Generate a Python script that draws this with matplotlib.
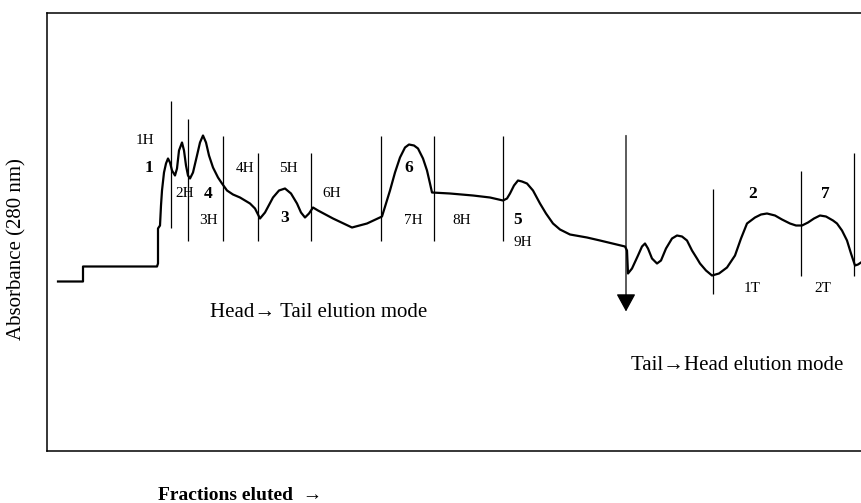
import matplotlib
matplotlib.use('Agg')
import matplotlib.pyplot as plt
import numpy as np

plt.rcParams['font.family'] = ['Liberation Serif', 'DejaVu Serif']

# chromatogram trace (fraction position, absorbance in arbitrary units)
frac = [58, 83, 83, 157, 158, 158, 160, 161, 162, 164, 166, 168, 170, 172, 175, 177, 179, 182,
        184, 186, 188, 190, 193, 197, 200, 203, 206, 209, 213, 218, 222, 227, 233, 240, 250,
        255, 260, 265, 273, 279, 285, 291, 297, 301, 305, 309, 313, 318, 333, 352, 367, 382,
        390, 395, 400, 405, 409, 414, 418, 423, 427, 430, 432, 450, 473, 490, 503, 507, 510,
        514, 518, 522, 527, 533, 540, 546, 553, 560, 570, 587, 600, 625, 627, 628, 632, 638,
        642, 645, 648, 652, 657, 661, 666, 672, 677, 682, 687, 692, 697, 700, 706, 712, 719,
        727, 735, 741, 747, 755, 761, 767, 775, 782, 790, 796, 802, 808, 814, 820, 826, 833,
        837, 842, 847, 851, 855, 858, 861]
ypix = [281, 281, 266, 266, 263, 228, 225, 205, 190, 172, 163, 158, 162, 170, 175, 168, 150, 142,
        150, 165, 175, 178, 172, 155, 142, 135, 142, 155, 167, 177, 183, 190, 194, 197, 203,
        208, 218, 212, 197, 190, 188, 193, 203, 212, 217, 213, 207, 210, 218, 227, 223, 216,
        190, 172, 157, 147, 144, 145, 148, 158, 170, 183, 192, 193, 195, 197, 200, 198, 193,
        185, 180, 181, 183, 190, 203, 213, 223, 229, 234, 237, 240, 246, 250, 273, 268, 255,
        246, 243, 248, 258, 263, 260, 248, 238, 235, 236, 240, 250, 258, 263, 270, 275, 273,
        267, 255, 238, 223, 217, 214, 213, 215, 219, 223, 225, 225, 222, 218, 215, 216, 220,
        223, 230, 240, 253, 265, 264, 262]
absorb = [450 - v for v in ypix]

# fraction cut lines: x, top, bottom
cut_x = [171, 188, 223, 258, 311, 381, 434, 503, 713, 801, 854]
cut_top = [100, 118, 135, 152, 152, 135, 135, 135, 188, 170, 152]
cut_bot = [227, 240, 240, 240, 240, 240, 240, 240, 293, 275, 275]

frac_labels = ['1H', '2H', '3H', '4H', '5H', '6H', '7H', '8H', '9H', '1T', '2T']
frac_lx = [145, 185, 208, 245, 288, 332, 413, 462, 523, 752, 823]
frac_ly = [140, 193, 220, 168, 168, 193, 220, 220, 242, 288, 288]

peak_labels = ['1', '4', '3', '6', '5', '2', '7']
peak_lx = [149, 208, 285, 409, 518, 753, 825]
peak_ly = [167, 193, 218, 167, 220, 193, 193]

fig = plt.figure(figsize=(8.61, 5.03), dpi=100)
ax = fig.add_axes([47 / 861, 52.5 / 503, 814 / 861, 438 / 503])
ax.set_xlim(47, 861)
ax.set_ylim(0, 438)
ax.set_xticks([])
ax.set_yticks([])
ax.spines['right'].set_visible(False)
for s in ['left', 'top', 'bottom']:
    ax.spines[s].set_linewidth(1.1)

ax.plot(frac, absorb, color='black', lw=1.6, solid_joinstyle='round')

ax.vlines(cut_x, [450 - b for b in cut_bot], [450 - t for t in cut_top], color='black', lw=0.9)

# switch of elution mode
ax.annotate('', xy=(626, 450 - 311), xytext=(626, 450 - 135),
            arrowprops=dict(arrowstyle='-|>,head_length=1.1,head_width=0.6',
                            color='black', lw=0.9, shrinkA=0, shrinkB=0))

for t, x, y in zip(frac_labels, frac_lx, frac_ly):
    ax.text(x, 450 - y, t, ha='center', va='center', fontsize=11)
for t, x, y in zip(peak_labels, peak_lx, peak_ly):
    ax.text(x, 450 - y, t, ha='center', va='center', fontsize=12.5, fontweight='bold')

ax.text(210, 450 - 312, 'Head\u2192 Tail elution mode', ha='left', va='center', fontsize=15)
ax.text(631, 450 - 365, 'Tail\u2192Head elution mode', ha='left', va='center', fontsize=15)

fig.text(17 / 861, 1 - 158 / 503, 'Absorbance (280 nm)', rotation=90, ha='center', va='top',
         fontsize=15)
fig.text(158 / 861, 1 - 500 / 503, 'Fractions eluted  \u2192', ha='left', va='baseline',
         fontsize=14, fontweight='bold')

fig.savefig('out.png', dpi=100)
